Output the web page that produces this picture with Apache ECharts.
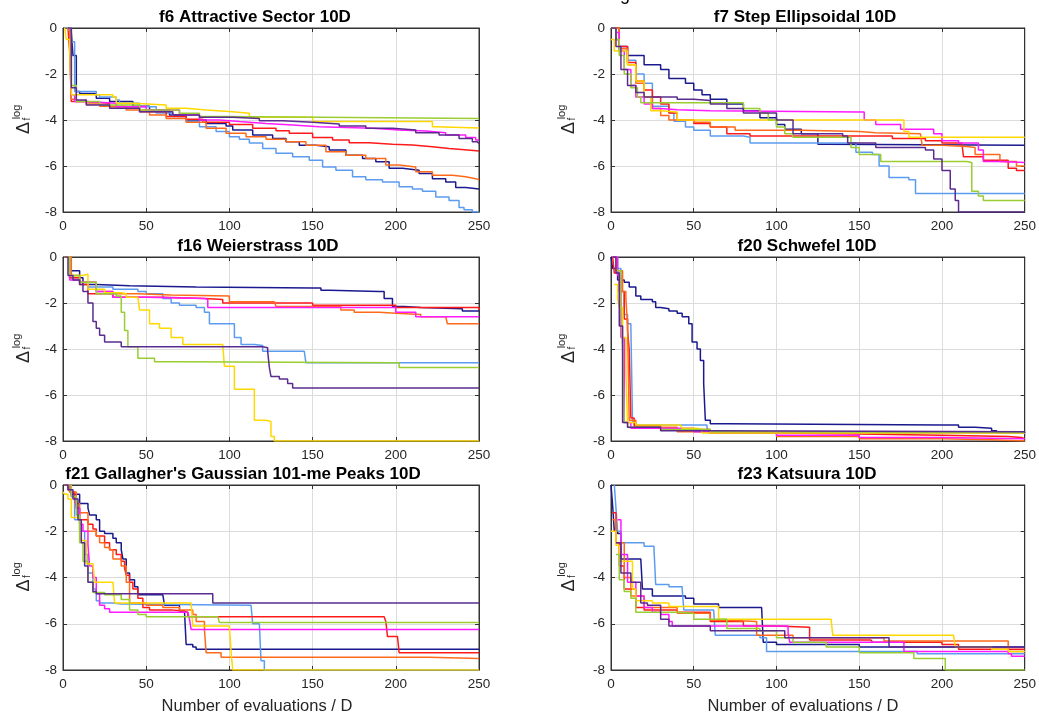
<!DOCTYPE html>
<html>
<head>
<meta charset="utf-8">
<script src="https://cdn.jsdelivr.net/npm/echarts@6/dist/echarts.min.js"></script>
<style>
html,body{margin:0;padding:0;background:#fff;}
#c{width:1039px;height:718px;}
</style>
</head>
<body>
<div id="c"></div>
<script>
// ---------- tick labels / axes ----------
const xTicks = [0, 50, 100, 150, 200, 250];
const yTicks = [-8, -6, -4, -2, 0];
const panelTitles = ["f6 Attractive Sector 10D", "f7 Step Ellipsoidal 10D", "f16 Weierstrass 10D",
  "f20 Schwefel 10D", "f21 Gallagher's Gaussian 101-me Peaks 10D", "f23 Katsuura 10D"];
const xLabel = "Number of evaluations / D";
const seriesColors = ["#1a1a8e", "#5c9cf0", "#ff1a1a", "#ff6a1a", "#ff1aff", "#ffd800", "#9acd32", "#5b2c8f"];
const seriesNames = ["navy", "lightblue", "red", "orange", "magenta", "yellow", "green", "purple"];

// ---------- f6 Attractive Sector ----------
const f6Navy = [[4,0],[5,-0.2],[6,-1.2],[8,-2.76],[10,-2.85],[20,-3.05],[28,-3.2],[42,-3.4],[52,-3.56],[64,-3.78],[74,-4.0],[86,-4.15],[98,-4.26],[102,-4.44],[114,-4.65],[126,-4.8],[134,-4.95],[142,-5.1],[152,-5.16],[160,-5.3],[170,-5.53],[180,-5.67],[188,-5.82],[196,-6.1],[204,-6.18],[214,-6.33],[222,-6.55],[230,-6.7],[236,-6.94],[242,-7.0],[250,-7.0]];
const f6Blue = [[2,0],[4,-0.6],[7,-2.76],[20,-2.9],[22,-3.0],[32,-3.13],[34,-3.27],[46,-3.42],[56,-3.7],[66,-3.85],[74,-4.07],[82,-4.29],[92,-4.5],[100,-4.73],[106,-4.84],[112,-5.0],[120,-5.24],[128,-5.45],[138,-5.6],[148,-5.75],[156,-6.04],[164,-6.18],[174,-6.47],[182,-6.6],[192,-6.7],[202,-6.9],[210,-7.0],[216,-7.1],[224,-7.35],[232,-7.5],[238,-7.8],[241,-7.9],[246,-8.0],[250,-8.0]];
const f6Red = [[3,0],[4,-1.0],[5,-3.2],[12,-3.27],[28,-3.42],[46,-3.64],[62,-3.85],[74,-3.97],[84,-4.1],[100,-4.2],[114,-4.36],[128,-4.47],[136,-4.58],[150,-4.76],[162,-4.87],[172,-4.99],[184,-5.05],[198,-5.09],[210,-5.16],[222,-5.24],[232,-5.31],[245,-5.35],[250,-5.35]];
const f6Orange = [[3,0],[4,-0.2],[5,-3.1],[8,-3.2],[12,-3.13],[14,-3.3],[22,-3.4],[38,-3.56],[52,-3.78],[62,-3.93],[74,-4.1],[86,-4.36],[98,-4.58],[110,-4.73],[122,-4.84],[134,-4.95],[146,-5.1],[158,-5.38],[170,-5.53],[182,-5.67],[194,-5.96],[202,-6.04],[212,-6.25],[222,-6.4],[234,-6.47],[242,-6.55],[248,-6.6],[250,-6.6]];
const f6Magenta = [[3,0],[5,-2.9],[7,-3.2],[14,-3.27],[32,-3.42],[50,-3.56],[70,-3.78],[82,-4.0],[94,-4.07],[106,-4.15],[122,-4.22],[138,-4.29],[154,-4.33],[170,-4.36],[186,-4.44],[202,-4.48],[218,-4.55],[230,-4.65],[242,-4.76],[248,-4.87],[250,-4.87]];
const f6Yellow = [[1,0],[2,-0.5],[4,-0.9],[5,-2.9],[30,-3.0],[32,-3.27],[42,-3.35],[62,-3.49],[74,-3.56],[86,-3.64],[102,-3.71],[112,-3.88],[150,-4.07],[222,-4.29],[224,-4.35],[250,-4.35]];
const f6Green = [[3,0],[5,-2.5],[8,-3.2],[22,-3.35],[46,-3.56],[70,-3.71],[82,-3.85],[98,-3.93],[250,-3.93]];
const f6Purple = [[3,0],[5,-2.6],[8,-3.13],[14,-3.35],[28,-3.49],[46,-3.64],[66,-3.78],[82,-3.88],[102,-3.93],[118,-4.03],[132,-4.1],[150,-4.17],[166,-4.26],[182,-4.36],[198,-4.44],[212,-4.55],[226,-4.65],[238,-4.8],[246,-4.95],[249,-5.02],[250,-5.02]];

// ---------- f7 Step Ellipsoidal ----------
const f7Navy = [[0,0],[3,-0.5],[5,-0.8],[10,-1.2],[20,-1.6],[30,-1.8],[35,-2.2],[45,-2.4],[50,-2.7],[55,-2.9],[60,-3.1],[70,-3.3],[80,-3.6],[90,-3.9],[100,-4.2],[105,-4.4],[115,-4.6],[125,-5.05],[130,-5.1],[250,-5.1]];
const f7Blue = [[0,0],[5,-1.0],[10,-1.4],[15,-2.0],[20,-2.4],[25,-3.4],[35,-3.7],[38,-4.05],[45,-4.3],[50,-4.45],[60,-4.7],[80,-4.75],[84,-5.0],[145,-5.0],[148,-5.4],[158,-5.5],[162,-6.0],[168,-6.5],[180,-6.6],[184,-7.2],[250,-7.2]];
const f7Red = [[0,0],[5,-0.8],[10,-1.5],[15,-2.3],[20,-2.7],[25,-3.0],[30,-3.3],[35,-3.7],[40,-4.0],[50,-4.15],[60,-4.3],[70,-4.6],[84,-4.7],[150,-4.7],[170,-4.8],[190,-4.9],[200,-5.0],[212,-5.05],[213,-5.6],[225,-5.75],[240,-6.1],[245,-6.2],[250,-6.2]];
const f7Orange = [[0,0],[5,-0.9],[10,-1.6],[15,-2.4],[20,-3.0],[25,-3.5],[30,-3.8],[35,-4.0],[50,-4.1],[60,-4.3],[75,-4.45],[115,-4.5],[150,-4.55],[160,-4.6],[187,-4.65],[188,-5.1],[200,-5.15],[215,-5.2],[220,-5.5],[235,-5.8],[245,-6.0],[250,-6.0]];
const f7Magenta = [[3,-0.2],[5,-1.0],[8,-1.8],[12,-2.5],[15,-3.0],[20,-3.3],[25,-3.5],[30,-3.55],[40,-3.6],[60,-3.65],[150,-3.65],[153,-4.0],[160,-4.2],[175,-4.4],[195,-4.6],[200,-4.9],[210,-5.0],[222,-5.3],[225,-5.8],[235,-5.85],[250,-5.85]];
const f7Yellow = [[0,-0.5],[2,-1.0],[6,-1.0],[10,-1.6],[15,-2.3],[20,-3.0],[24,-3.6],[30,-3.65],[40,-4.0],[175,-4.0],[177,-4.5],[180,-4.75],[250,-4.75]];
const f7Green = [[0,0],[3,-0.5],[5,-1.2],[8,-2.0],[12,-2.6],[16,-3.0],[18,-3.25],[70,-3.25],[80,-3.5],[90,-3.7],[95,-4.0],[100,-4.3],[105,-4.6],[110,-4.75],[140,-4.75],[145,-5.2],[150,-5.5],[160,-5.5],[163,-5.8],[215,-5.85],[218,-7.1],[222,-7.3],[225,-7.5],[250,-7.5]];
const f7Purple = [[0,0],[3,-0.8],[6,-1.8],[10,-2.5],[15,-2.8],[20,-3.0],[40,-3.1],[50,-3.15],[60,-3.3],[70,-3.5],[80,-3.7],[100,-4.0],[110,-4.6],[140,-4.7],[143,-5.0],[160,-5.2],[190,-5.3],[195,-5.7],[200,-6.2],[205,-7.0],[208,-7.5],[210,-8.0],[250,-8.0]];

// ---------- f16 Weierstrass ----------
const f16Navy = [[1,0],[4,-0.6],[10,-0.9],[12,-1.2],[20,-1.25],[40,-1.3],[80,-1.35],[150,-1.35],[155,-1.45],[160,-1.5],[190,-1.5],[193,-1.8],[198,-2.15],[205,-2.2],[215,-2.25],[240,-2.35],[250,-2.35]];
const f16Blue = [[1,0],[4,-0.9],[10,-1.1],[15,-1.3],[30,-1.4],[45,-1.5],[50,-1.6],[60,-1.8],[65,-2.0],[70,-2.1],[80,-2.2],[85,-2.4],[88,-2.9],[100,-2.9],[103,-3.5],[107,-3.8],[115,-3.85],[120,-4.1],[145,-4.1],[146,-4.6],[250,-4.6]];
const f16Red = [[1,0],[4,-0.9],[10,-1.2],[15,-1.6],[30,-1.75],[60,-1.8],[85,-1.85],[96,-2.0],[150,-2.1],[200,-2.2],[250,-2.3]];
const f16Orange = [[1,0],[5,-0.8],[10,-1.1],[20,-1.5],[30,-1.6],[45,-1.65],[65,-1.7],[100,-1.95],[127,-1.95],[128,-2.15],[165,-2.15],[167,-2.3],[175,-2.4],[190,-2.45],[200,-2.5],[215,-2.6],[230,-2.6],[231,-2.9],[250,-2.9]];
const f16Magenta = [[1,0],[4,-1.0],[10,-1.1],[20,-1.5],[30,-1.75],[50,-1.8],[85,-1.85],[87,-2.2],[150,-2.2],[200,-2.4],[212,-2.6],[250,-2.6]];
const f16Yellow = [[1,0],[4,-0.8],[12,-0.75],[15,-1.4],[25,-1.55],[35,-1.6],[38,-1.75],[45,-1.8],[46,-2.3],[52,-2.9],[58,-3.1],[65,-3.5],[72,-3.8],[96,-3.8],[97,-4.75],[103,-5.75],[113,-5.75],[115,-7.1],[122,-7.15],[125,-7.8],[127,-8.0],[250,-8.0]];
const f16Green = [[1,0],[4,-0.8],[10,-1.1],[20,-1.6],[32,-1.7],[35,-2.4],[37,-3.2],[39,-3.9],[45,-4.4],[55,-4.55],[70,-4.6],[200,-4.6],[202,-4.8],[250,-4.8]];
const f16Purple = [[1,0],[3,-0.8],[6,-1.0],[10,-1.2],[12,-1.5],[15,-2.0],[18,-2.8],[20,-3.1],[22,-3.4],[25,-3.7],[35,-3.9],[60,-3.9],[120,-3.95],[123,-4.1],[124,-4.8],[125,-5.2],[130,-5.3],[135,-5.5],[138,-5.7],[250,-5.7]];

// ---------- f20 Schwefel ----------
const f20Navy = [[0,0],[1,-0.5],[4,-1.0],[8,-1.1],[11,-1.3],[15,-1.7],[18,-1.85],[25,-1.95],[27,-2.2],[30,-2.25],[35,-2.35],[40,-2.45],[43,-2.6],[47,-2.9],[49,-3.7],[52,-4.0],[54,-4.5],[56,-5.5],[57,-7.1],[60,-7.25],[70,-7.3],[200,-7.3],[210,-7.4],[220,-7.45],[230,-7.55],[233,-7.65],[250,-7.65]];
const f20Blue = [[2,0],[4,-0.5],[6,-1.5],[8,-2.5],[10,-2.9],[12,-3.0],[13,-7.2],[15,-7.3],[58,-7.4],[59,-7.65],[250,-7.65]];
const f20Red = [[1,0],[2,-0.7],[5,-1.5],[8,-2.7],[10,-3.2],[11,-4.0],[12,-7.0],[14,-7.35],[30,-7.5],[60,-7.65],[100,-7.7],[150,-7.75],[200,-7.8],[240,-7.85],[248,-7.9],[250,-7.9]];
const f20Orange = [[1,0],[3,-0.6],[7,-1.5],[9,-1.8],[10,-3.0],[11,-7.1],[15,-7.4],[40,-7.6],[100,-7.8],[150,-7.9],[200,-7.95],[230,-8.0],[250,-8.0]];
const f20Magenta = [[1,0],[4,-0.8],[6,-3.5],[8,-7.2],[12,-7.45],[50,-7.6],[100,-7.75],[150,-7.85],[200,-7.9],[250,-7.9]];
const f20Yellow = [[2,-1.2],[4,-1.8],[5,-2.2],[7,-3.5],[9,-5.0],[10,-7.2],[15,-7.3],[42,-7.35],[43,-7.45],[52,-7.5],[55,-7.65],[250,-7.65]];
const f20Green = [[3,-0.5],[4,-0.6],[6,-2.0],[7,-4.0],[8,-7.2],[10,-7.4],[30,-7.5],[60,-7.6],[100,-7.62],[250,-7.65]];
const f20Purple = [[1,0],[3,-0.7],[5,-3.0],[7,-7.2],[10,-7.4],[30,-7.55],[60,-7.6],[250,-7.65]];

// ---------- f21 Gallagher's Gaussian 101-me Peaks ----------
const f21Navy = [[1,0],[3,-0.2],[5,-0.4],[10,-0.8],[15,-1.0],[16,-1.3],[20,-1.5],[22,-2.0],[25,-2.1],[30,-2.3],[32,-2.5],[35,-2.8],[36,-3.2],[38,-3.8],[40,-4.1],[43,-4.4],[45,-4.75],[60,-4.75],[61,-5.2],[70,-5.45],[73,-5.45],[74,-6.9],[78,-7.0],[80,-7.1],[250,-7.1]];
const f21Red = [[1,0],[4,-0.3],[7,-0.5],[8,-1.0],[10,-1.5],[15,-1.7],[18,-1.9],[20,-2.2],[25,-2.5],[28,-2.8],[32,-3.0],[35,-3.3],[37,-3.6],[38,-3.9],[40,-4.2],[42,-4.5],[45,-4.9],[48,-5.3],[52,-5.4],[65,-5.45],[72,-5.5],[75,-5.7],[193,-5.7],[194,-5.9],[195,-6.55],[201,-6.6],[202,-7.25],[250,-7.25]];
const f21Orange = [[1,0],[4,-0.3],[8,-0.8],[10,-1.2],[15,-2.0],[20,-2.2],[22,-2.5],[25,-2.7],[28,-2.8],[30,-3.2],[35,-3.5],[38,-4.2],[40,-5.1],[50,-5.2],[60,-5.3],[70,-5.4],[78,-5.6],[80,-5.9],[85,-6.25],[86,-7.25],[95,-7.45],[215,-7.45],[220,-7.5],[250,-7.5]];
const f21Blue = [[1,0],[3,-0.2],[5,-0.5],[7,-1.5],[10,-2.0],[13,-3.0],[15,-3.8],[18,-4.5],[20,-5.0],[22,-5.1],[30,-5.15],[35,-5.2],[113,-5.2],[114,-6.0],[118,-6.0],[119,-7.6],[121,-8.0],[250,-8.0]];
const f21Magenta = [[1,0],[5,-0.5],[8,-1.0],[10,-1.7],[12,-2.0],[15,-2.6],[16,-3.5],[18,-4.0],[20,-4.7],[22,-5.2],[25,-5.35],[28,-5.5],[75,-5.5],[76,-5.8],[77,-6.25],[250,-6.25]];
const f21Yellow = [[0,-0.3],[1,-0.4],[3,-0.6],[5,-1.4],[10,-2.4],[14,-3.4],[18,-3.4],[19,-4.2],[30,-4.2],[31,-5.1],[77,-5.1],[78,-6.1],[100,-6.1],[101,-7.2],[102,-8.0],[250,-8.0]];
const f21Green = [[1,0],[5,-0.5],[8,-1.3],[10,-2.5],[12,-3.3],[15,-4.2],[18,-4.65],[25,-4.75],[35,-4.95],[40,-5.4],[45,-5.6],[50,-5.7],[93,-5.7],[94,-5.95],[250,-5.95]];
const f21Purple = [[1,0],[3,-0.2],[6,-0.6],[9,-1.5],[11,-2.5],[13,-3.5],[15,-4.2],[18,-4.6],[20,-4.7],[88,-4.7],[90,-5.1],[250,-5.1]];

// ---------- f23 Katsuura ----------
const f23Navy = [[0,0],[1,-0.9],[2,-2.0],[4,-2.1],[6,-3.2],[18,-3.2],[19,-4.5],[25,-4.8],[45,-4.9],[50,-5.15],[60,-5.15],[65,-5.3],[91,-5.3],[92,-6.8],[100,-6.9],[150,-7.0],[250,-7.0]];
const f23Blue = [[2,0],[3,-1.0],[4,-2.0],[6,-2.5],[20,-2.65],[26,-2.8],[27,-4.3],[35,-4.4],[43,-4.5],[44,-5.4],[62,-5.4],[63,-6.5],[90,-6.6],[94,-7.2],[160,-7.2],[185,-7.3],[250,-7.3]];
const f23Red = [[1,-1.2],[3,-2.5],[5,-3.5],[8,-4.5],[15,-5.3],[20,-5.4],[40,-5.5],[60,-5.9],[80,-6.1],[100,-6.15],[120,-6.7],[157,-6.7],[158,-6.8],[200,-6.9],[210,-7.1],[250,-7.1]];
const f23Orange = [[1,-1.5],[3,-2.5],[8,-4.0],[12,-4.8],[20,-5.3],[40,-5.55],[60,-5.85],[70,-5.9],[88,-6.5],[110,-6.6],[165,-6.75],[238,-6.75],[240,-7.2],[250,-7.2]];
const f23Magenta = [[4,-1.5],[6,-3.0],[10,-4.2],[15,-4.8],[20,-5.3],[25,-5.5],[30,-5.6],[35,-5.9],[37,-6.1],[100,-6.1],[107,-6.4],[108,-6.8],[160,-6.8],[177,-7.2],[240,-7.3],[242,-7.4],[250,-7.4]];
const f23Yellow = [[0,-2.0],[3,-2.6],[5,-3.3],[11,-3.3],[13,-4.5],[15,-5.0],[25,-5.1],[35,-5.25],[50,-5.25],[65,-5.8],[133,-5.8],[134,-6.5],[207,-6.5],[208,-7.0],[230,-7.1],[240,-7.2],[250,-7.2]];
const f23Green = [[3,-3.0],[5,-4.1],[8,-4.6],[12,-4.9],[15,-5.5],[40,-5.55],[50,-5.8],[70,-6.2],[90,-6.3],[100,-6.6],[110,-6.8],[130,-7.0],[150,-7.25],[180,-7.25],[183,-7.5],[200,-7.5],[202,-8.0],[250,-8.0]];
const f23Purple = [[3,-2.5],[6,-3.8],[10,-3.8],[12,-4.2],[18,-5.1],[22,-5.2],[30,-5.8],[35,-6.1],[60,-6.3],[100,-6.3],[105,-6.6],[165,-6.6],[168,-7.0],[250,-7.0]];

const panelData = [
  [f6Navy, f6Blue, f6Red, f6Orange, f6Magenta, f6Yellow, f6Green, f6Purple],
  [f7Navy, f7Blue, f7Red, f7Orange, f7Magenta, f7Yellow, f7Green, f7Purple],
  [f16Navy, f16Blue, f16Red, f16Orange, f16Magenta, f16Yellow, f16Green, f16Purple],
  [f20Navy, f20Blue, f20Red, f20Orange, f20Magenta, f20Yellow, f20Green, f20Purple],
  [f21Navy, f21Blue, f21Red, f21Orange, f21Magenta, f21Yellow, f21Green, f21Purple],
  [f23Navy, f23Blue, f23Red, f23Orange, f23Magenta, f23Yellow, f23Green, f23Purple]
];

// ---------- layout ----------
const colLeft = [63, 611];
const colWidth = [416, 415];
const rowTop = [28, 257, 485];
const rowHeight = [184, 184, 185];
const titleCenterX = [250, 800, 253, 802, 238, 802];
const FONT = "'Liberation Sans', Arial, Helvetica, sans-serif";
const TXT = '#262626';

const chart = echarts.init(document.getElementById('c'), null, {renderer: 'canvas'});
const grids = [], xAxes = [], yAxes = [], series = [], titles = [], graphics = [];

for (let p = 0; p < 6; p++) {
  const col = p % 2, row = Math.floor(p / 2);
  grids.push({left: colLeft[col], top: rowTop[row], width: colWidth[col], height: rowHeight[row],
    show: true, borderColor: '#333', borderWidth: 1, backgroundColor: '#fff'});
  const gi = p;
  const baseX = {
    type: 'value', gridIndex: gi, min: 0, max: 250, interval: 50,
    axisLine: {show: true, onZero: false, lineStyle: {color: '#333', width: 1}},
    axisTick: {show: true, inside: true, length: 4, lineStyle: {color: '#333'}},
    axisLabel: {show: true, color: TXT, fontSize: 13.5, fontFamily: FONT, margin: 7,
      formatter: v => xTicks.includes(v) ? String(v) : ''},
    splitLine: {show: true, lineStyle: {color: '#dcdcdc', width: 1}}
  };
  xAxes.push(Object.assign({}, baseX, {position: 'bottom'}));
  xAxes.push(Object.assign({}, baseX, {position: 'top', axisLabel: {show: false}, splitLine: {show: false}}));
  const baseY = {
    type: 'value', gridIndex: gi, min: -8, max: 0, interval: 2,
    axisLine: {show: true, onZero: false, lineStyle: {color: '#333', width: 1}},
    axisTick: {show: true, inside: true, length: 4, lineStyle: {color: '#333'}},
    axisLabel: {show: true, color: TXT, fontSize: 13.5, fontFamily: FONT, margin: 6,
      formatter: v => yTicks.includes(v) ? String(v) : ''},
    splitLine: {show: true, lineStyle: {color: '#dcdcdc', width: 1}}
  };
  yAxes.push(Object.assign({}, baseY, {position: 'left'}));
  yAxes.push(Object.assign({}, baseY, {position: 'right', axisLabel: {show: false}, splitLine: {show: false}}));

  panelData[p].forEach((d, k) => {
    series.push({
      type: 'line', name: seriesNames[k], xAxisIndex: 2 * p, yAxisIndex: 2 * p,
      data: d, step: 'end', showSymbol: false, symbol: 'none', silent: true,
      clip: true,
      lineStyle: {color: seriesColors[k], width: 1.5},
      itemStyle: {color: seriesColors[k]}
    });
  });

  titles.push({
    text: panelTitles[p], left: titleCenterX[p], top: rowTop[row] - 24, textAlign: 'center',
    textStyle: {fontSize: 17, fontWeight: 'bold', color: '#000', fontFamily: FONT}
  });

  // y-axis label Δ_f^log
  const cy = rowTop[row] + rowHeight[row] / 2 + 8;
  const cx = col === 0 ? 24 : 569;
  graphics.push({
    type: 'group', x: cx, y: cy, rotation: Math.PI / 2,
    children: [
      {type: 'text', x: 0, y: 0, style: {text: 'Δ', fontSize: 18, fontFamily: FONT, fill: TXT, align: 'center', verticalAlign: 'middle'}},
      {type: 'text', x: 16, y: -7, style: {text: 'log', fontSize: 11, fontFamily: FONT, fill: TXT, align: 'center', verticalAlign: 'middle'}},
      {type: 'text', x: 9, y: 3, style: {text: 'f', fontSize: 10, fontFamily: FONT, fill: TXT, align: 'center', verticalAlign: 'middle'}}
    ]
  });
}

// x-axis labels (bottom row only)
graphics.push({type: 'text', x: 257, y: 706, style: {text: xLabel, fontSize: 16.5, fontFamily: FONT, fill: TXT, align: 'center', verticalAlign: 'middle'}});
graphics.push({type: 'text', x: 803, y: 706, style: {text: xLabel, fontSize: 16.5, fontFamily: FONT, fill: TXT, align: 'center', verticalAlign: 'middle'}});
// cropped fragment of a heading at the very top
graphics.push({type: 'text', x: 620, y: -14, style: {text: 'g', fontSize: 18, fontFamily: FONT, fill: '#000', align: 'left', verticalAlign: 'top'}});

chart.setOption({
  animation: false,
  backgroundColor: '#fff',
  title: titles,
  grid: grids,
  xAxis: xAxes,
  yAxis: yAxes,
  series: series,
  graphic: graphics
});
</script>
</body>
</html>
